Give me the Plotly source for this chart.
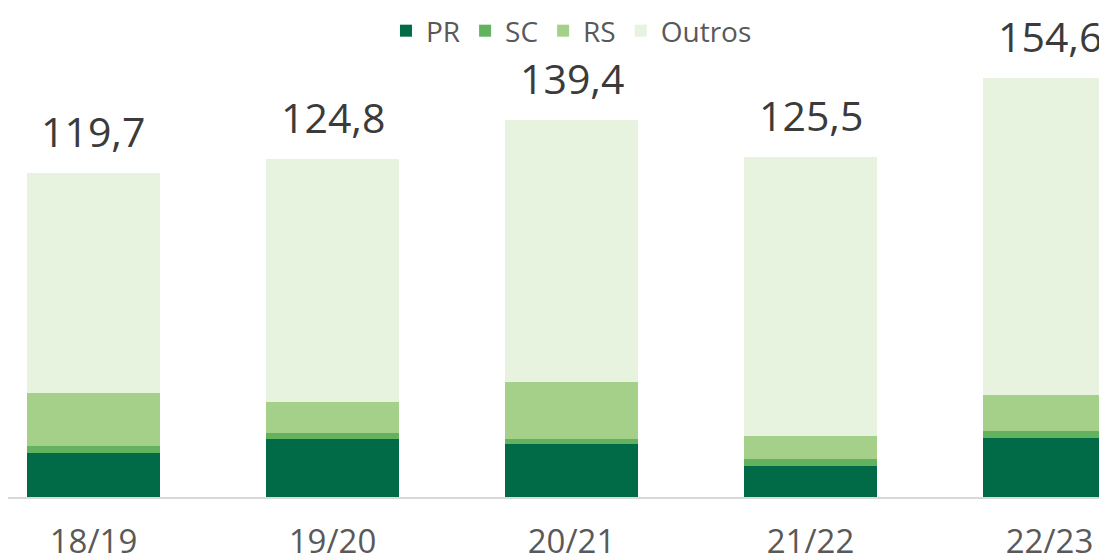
import plotly.graph_objs as go

# Safras (categorias) e valores
safras = ["18/19", "19/20", "20/21", "21/22", "22/23"]
pr = [16.3, 21.4, 19.6, 11.5, 21.8]
sc = [2.6, 2.2, 1.8, 2.6, 2.6]
rs = [19.6, 11.5, 21.1, 8.5, 13.3]
totais = [119.7, 124.8, 139.4, 125.5, 154.6]
outros = [round(t - a - b - c, 1) for t, a, b, c in zip(totais, pr, sc, rs)]
rotulos = ["119,7", "124,8", "139,4", "125,5", "154,6"]

cores = {"PR": "#006B46", "SC": "#62B25E", "RS": "#A5D08A", "Outros": "#E7F2DF"}

plotData = []
for nome, vals in [("PR", pr), ("SC", sc), ("RS", rs), ("Outros", outros)]:
	plotData.append(go.Bar(
		x=safras,
		y=vals,
		name=nome,
		marker=dict(color=cores[nome], line=dict(width=0)),
		hoverinfo="x+y+name"))

anots = []
for s, t, r in zip(safras, totais, rotulos):
	anots.append(dict(
		x=s, y=t, text=r, showarrow=False,
		xref="x", yref="y",
		yanchor="bottom", yshift=12,
		font=dict(family="Open Sans", size=41, color="#3b3b3b")))

# a pagina tem margem de 8px no body: o grafico e deslocado para compensar
layout = go.Layout(
	width=1107,
	height=553,
	margin=dict(l=0, r=0, t=0, b=64, autoexpand=False),
	barmode="stack",
	bargap=0.443,
	plot_bgcolor="white",
	paper_bgcolor="white",
	showlegend=True,
	legend=dict(
		orientation="h",
		traceorder="normal",
		x=0.509, xanchor="center",
		y=0.953, yanchor="middle",
		font=dict(family="Open Sans", size=28, color="#595959"),
		itemclick=False),
	annotations=anots,
	font=dict(family="Open Sans", color="#595959"))

layout["xaxis"].update(
	range=[-0.3577, 4.274],
	automargin=False,
	showline=True, linecolor="#d9d9d9", linewidth=2,
	showgrid=False, zeroline=False, ticks="",
	ticklabelstandoff=14,
	tickfont=dict(family="Open Sans", size=33, color="#595959"))
layout["yaxis"].update(
	range=[0, 180.6],
	visible=False, showgrid=False, zeroline=False)

fig = go.Figure(data=plotData, layout=layout)
fig.write_html("out.html")
